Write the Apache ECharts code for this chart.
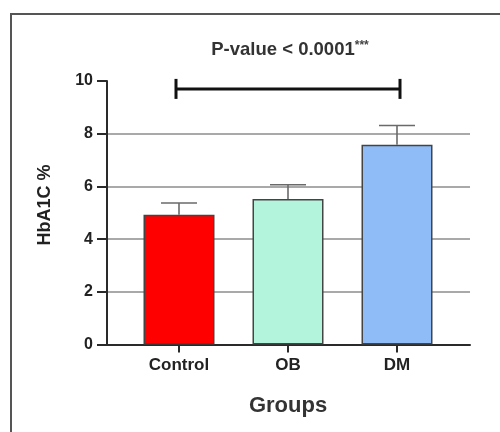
<!DOCTYPE html>
<html>
<head>
<meta charset="utf-8">
<script src="https://cdn.jsdelivr.net/npm/echarts@6/dist/echarts.min.js"></script>
<style>html,body{margin:0;padding:0;background:#fff}#c{width:500px;height:432px}</style>
</head>
<body>
<div id="c"></div>
<script>
const categories = ['Control', 'OB', 'DM'];
const means = [4.92, 5.52, 7.58];
const errors = [0.45, 0.54, 0.73];
const yMin = 0, yMax = 10, yInterval = 2;
const bracketFrom = 0, bracketTo = 2, bracketY = 9.7;
const titleText = 'P-value < 0.0001';
const titleStars = '***';
const yName = 'HbA1C %';
const xName = 'Groups';

const barColors = ['#ff0000', '#b3f5dc', '#8fbcf7'];
const FONT = 'Liberation Sans, Arial, Helvetica, sans-serif';

const chart = echarts.init(document.getElementById('c'), null, {renderer: 'canvas'});

const errData = categories.map((c, i) => [i, means[i], means[i] + errors[i]]);

const option = {
  animation: false,
  backgroundColor: '#fff',
  grid: [
    {left: 107, right: 30, top: 81, bottom: 87.5},
    {left: 124.5, right: 48.5, top: 81, bottom: 87.5}
  ],
  xAxis: [
    {
      gridIndex: 0, type: 'value', min: 0, max: 1,
      axisLine: {show: true, onZero: false, lineStyle: {color: '#2a2a2a', width: 2}},
      axisTick: {show: false}, axisLabel: {show: false}, splitLine: {show: false}
    },
    {
      gridIndex: 1, type: 'category', data: categories, boundaryGap: true,
      axisLine: {show: false},
      axisTick: {show: true, alignWithLabel: true, length: 8, lineStyle: {color: '#2a2a2a', width: 2}},
      axisLabel: {margin: 12, fontFamily: FONT, fontWeight: 'bold', fontSize: 17, color: '#222'},
      name: xName, nameLocation: 'middle', nameGap: 50,
      nameTextStyle: {fontFamily: FONT, fontWeight: 'bold', fontSize: 22, color: '#333'}
    }
  ],
  yAxis: [
    {
      gridIndex: 0, type: 'value', min: yMin, max: yMax, interval: yInterval,
      axisLine: {show: true, lineStyle: {color: '#2a2a2a', width: 2}},
      axisTick: {show: true, length: 10, lineStyle: {color: '#2a2a2a', width: 2}},
      axisLabel: {margin: 14, fontFamily: FONT, fontWeight: 'bold', fontSize: 16, color: '#222'},
      splitLine: {show: true, showMinLine: false, showMaxLine: false, lineStyle: {color: '#8c8c8c', width: 1.5}}
    },
    {
      gridIndex: 1, type: 'value', min: yMin, max: yMax, interval: yInterval, show: false
    }
  ],
  series: [
    {
      type: 'bar', xAxisIndex: 1, yAxisIndex: 1, barWidth: 71,
      data: means.map((v, i) => ({value: v, itemStyle: {color: barColors[i]}})),
      itemStyle: {borderColor: '#444', borderWidth: 1.5},
      z: 3
    },
    {
      type: 'custom', xAxisIndex: 1, yAxisIndex: 1, data: errData, z: 4,
      renderItem: function (params, api) {
        const base = api.coord([api.value(0), api.value(1)]);
        const top = api.coord([api.value(0), api.value(2)]);
        const st = {stroke: '#6a6a6a', lineWidth: 1.6};
        return {type: 'group', children: [
          {type: 'line', shape: {x1: base[0], y1: base[1], x2: top[0], y2: top[1]}, style: st},
          {type: 'line', shape: {x1: top[0] - 18, y1: top[1], x2: top[0] + 18, y2: top[1]}, style: st}
        ]};
      }
    },
    {
      type: 'custom', xAxisIndex: 1, yAxisIndex: 1, data: [[bracketFrom, bracketTo, bracketY]], z: 5,
      renderItem: function (params, api) {
        const p1 = api.coord([api.value(0), api.value(2)]);
        const p2 = api.coord([api.value(1), api.value(2)]);
        const x1 = p1[0] - 3, x2 = p2[0] + 3;
        const st = {stroke: '#111', lineWidth: 3};
        return {type: 'group', children: [
          {type: 'line', shape: {x1: x1, y1: p1[1], x2: x2, y2: p2[1]}, style: st},
          {type: 'line', shape: {x1: x1, y1: p1[1] - 10, x2: x1, y2: p1[1] + 10}, style: st},
          {type: 'line', shape: {x1: x2, y1: p2[1] - 10, x2: x2, y2: p2[1] + 10}, style: st}
        ]};
      }
    }
  ],
  graphic: [
    {type: 'rect', shape: {x: 11, y: 14, width: 700, height: 700}, style: {fill: 'none', stroke: '#555', lineWidth: 2}, silent: true},
    {
      type: 'text', x: 290, y: 50,
      style: {
        text: titleText + '{s|' + titleStars + '}',
        align: 'center', verticalAlign: 'middle',
        fontFamily: FONT, fontWeight: 'bold', fontSize: 18.5, fill: '#333',
        rich: {s: {fontFamily: FONT, fontSize: 12, fontWeight: 'bold', fill: '#444', verticalAlign: 'top', padding: [0, 0, 8, 0]}}
      }
    },
    {
      type: 'text', x: 45, y: 205, rotation: Math.PI / 2,
      style: {text: yName, align: 'center', verticalAlign: 'middle', fontFamily: FONT, fontWeight: 'bold', fontSize: 18, fill: '#222'}
    }
  ]
};
chart.setOption(option);
</script>
</body>
</html>
